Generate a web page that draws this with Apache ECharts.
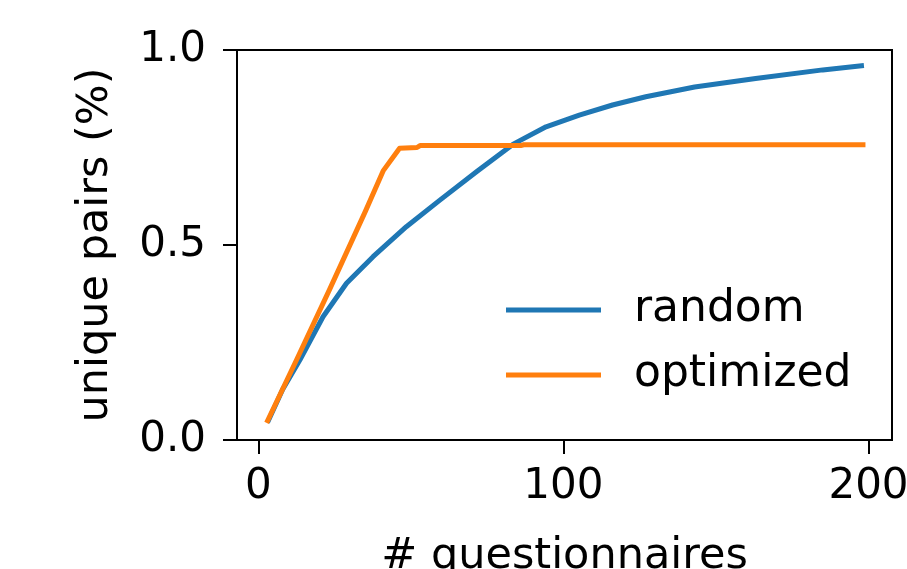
<!DOCTYPE html>
<html>
<head>
<meta charset="utf-8">
<script src="https://cdn.jsdelivr.net/npm/echarts@6/dist/echarts.min.js"></script>
<style>html,body{margin:0;padding:0;background:#fff;}#c{width:907px;height:569px;}</style>
</head>
<body>
<div id="c"></div>
<script>
var randomX = [3, 8, 13.6, 21.2, 28.9, 37.6, 48.5, 59.5, 71.5, 83.4, 94.3, 105.2, 116.1, 127, 143, 163, 185, 198.5];
var randomY = [0.045, 0.13, 0.205, 0.316, 0.402, 0.47, 0.547, 0.615, 0.688, 0.758, 0.803, 0.833, 0.859, 0.88, 0.905, 0.927, 0.949, 0.96];
var optX = [2.7, 12.5, 23.4, 35, 40.9, 46.3, 52, 53, 86, 87, 199];
var optY = [0.044, 0.205, 0.387, 0.585, 0.69, 0.748, 0.750, 0.755, 0.755, 0.757, 0.757];
var xTicks = [0, 100, 200];
var yTicks = [0, 0.5, 1.0];
var seriesNames = ['random', 'optimized'];

function pairs(xs, ys) { return xs.map(function (x, i) { return [x, ys[i]]; }); }

var font = 'DejaVu Sans';
var chart = echarts.init(document.getElementById('c'), null, { renderer: 'canvas' });
chart.setOption({
  animation: false,
  backgroundColor: '#ffffff',
  textStyle: { fontFamily: font, color: '#000' },
  grid: { left: 237, right: 15, top: 50, bottom: 129, outerBoundsMode: 'none', containLabel: false,
    show: true, borderColor: '#000', borderWidth: 2, backgroundColor: 'transparent' },
  legend: {
    orient: 'vertical', left: 506, top: 285, padding: 0, itemGap: 15,
    icon: 'rect', itemWidth: 95, itemHeight: 5,
    textStyle: { fontFamily: font, fontSize: 44, color: '#000', lineHeight: 50, padding: [0, 0, 0, 28] },
    data: seriesNames
  },
  xAxis: {
    type: 'value', min: -7, max: 207.7,
    name: '# questionnaires', nameLocation: 'middle', nameGap: 95,
    nameTextStyle: { fontFamily: font, fontSize: 43, color: '#000' },
    axisLine: { show: true, onZero: false, lineStyle: { color: '#000', width: 2 } },
    axisTick: { show: true, inside: false, length: 14, lineStyle: { color: '#000', width: 2 }, customValues: xTicks },
    axisLabel: { fontFamily: font, fontSize: 42, color: '#000', margin: 26, customValues: xTicks },
    splitLine: { show: false }
  },
  yAxis: {
    type: 'value', min: 0, max: 1,
    name: 'unique pairs (%)', nameLocation: 'middle', nameGap: 120, nameRotate: 90,
    nameTextStyle: { fontFamily: font, fontSize: 43, color: '#000' },
    axisLine: { show: true, onZero: false, lineStyle: { color: '#000', width: 2 } },
    axisTick: { show: true, inside: false, length: 14, lineStyle: { color: '#000', width: 2 }, customValues: yTicks },
    axisLabel: { fontFamily: font, fontSize: 42, color: '#000', margin: 31, customValues: yTicks,
      formatter: function (v) { return v.toFixed(1); } },
    splitLine: { show: false }
  },
  series: [
    { name: seriesNames[0], type: 'line', data: pairs(randomX, randomY), showSymbol: false, smooth: false,
      lineStyle: { color: '#1f77b4', width: 5, join: 'round', cap: 'butt' }, itemStyle: { color: '#1f77b4' } },
    { name: seriesNames[1], type: 'line', data: pairs(optX, optY), showSymbol: false, smooth: false,
      lineStyle: { color: '#ff7f0e', width: 5, join: 'round', cap: 'butt' }, itemStyle: { color: '#ff7f0e' } }
  ]
});
</script>
</body>
</html>
